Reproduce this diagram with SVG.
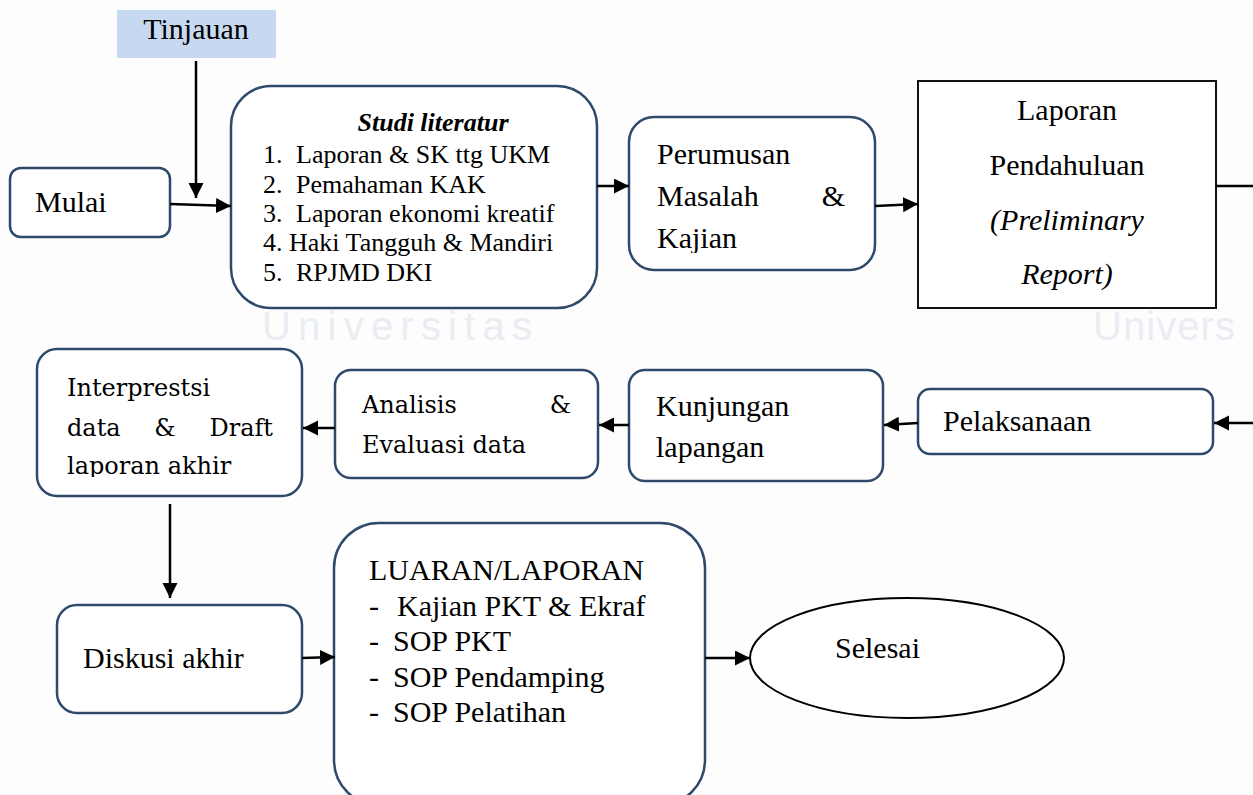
<svg xmlns="http://www.w3.org/2000/svg" width="1253" height="795" viewBox="0 0 1253 795">
<style>
.node{fill:#ffffff;stroke:#2e4a6b;stroke-width:2.5}
.sq{fill:#ffffff;stroke:#111111;stroke-width:2}
.t{font-family:"Liberation Serif","Times New Roman",serif;font-size:30px;fill:#000}
.s{font-family:"Liberation Serif","Times New Roman",serif;font-size:26px;fill:#000}
.c{font-family:"DejaVu Serif",serif;font-size:24px;fill:#000}
.conn{stroke:#000;stroke-width:2.5;fill:none}
.wm{font-family:"Liberation Sans",Arial,sans-serif;font-size:40px;fill:#e9edf3;letter-spacing:8px}
</style>
<defs>
<marker id="ah" markerUnits="userSpaceOnUse" markerWidth="16" markerHeight="16" refX="15" refY="7.5" orient="auto">
<path d="M0,0 L15,7.5 L0,15 z" fill="#000"/>
</marker>
<clipPath id="clipK"><rect x="629" y="117" width="246" height="136"/></clipPath>
<clipPath id="clipI"><rect x="37" y="349" width="265" height="128"/></clipPath>
</defs>
<rect width="1253" height="795" fill="#fdfdfd"/>
<g id="watermark">
<text class="wm" x="262" y="340" textLength="278">Universitas</text>
<text class="wm" x="1093" y="340" textLength="150">Univers</text>
</g>
<g id="tinjauan">
<rect x="117" y="10" width="159" height="48" fill="#c6d9f1"/>
<text class="t" x="196" y="39" text-anchor="middle">Tinjauan</text>
</g>
<g id="mulai">
<rect class="node" x="10" y="168" width="160" height="69" rx="11"/>
<text class="t" x="35" y="212">Mulai</text>
</g>
<g id="studi">
<rect class="node" x="231" y="86" width="366" height="222" rx="40"/>
<text class="s" x="433" y="131" text-anchor="middle" font-weight="bold" font-style="italic">Studi literatur</text>
<text class="s" x="263" y="163">1.</text><text class="s" x="296" y="163">Laporan &amp; SK ttg UKM</text>
<text class="s" x="263" y="193">2.</text><text class="s" x="296" y="193">Pemahaman KAK</text>
<text class="s" x="263" y="222">3.</text><text class="s" x="296" y="222">Laporan ekonomi kreatif</text>
<text class="s" x="263" y="251">4. Haki Tangguh &amp; Mandiri</text>
<text class="s" x="263" y="281">5.</text><text class="s" x="296" y="281">RPJMD DKI</text>
</g>
<g id="perumusan">
<rect class="node" x="629" y="117" width="246" height="153" rx="25"/>
<g clip-path="url(#clipK)">
<text class="t" x="657" y="164">Perumusan</text>
<text class="t" x="657" y="206">Masalah</text>
<text class="t" x="845" y="206" text-anchor="end">&amp;</text>
<text class="t" x="657" y="248">Kajian</text>
</g>
</g>
<g id="laporan">
<rect class="sq" x="918" y="81" width="298" height="227"/>
<text class="t" x="1067" y="120" text-anchor="middle">Laporan</text>
<text class="t" x="1067" y="175" text-anchor="middle">Pendahuluan</text>
<text class="t" x="1067" y="230" text-anchor="middle" font-style="italic">(Preliminary</text>
<text class="t" x="1067" y="284" text-anchor="middle" font-style="italic">Report)</text>
</g>
<g id="pelaksanaan">
<rect class="node" x="918" y="389" width="295" height="65" rx="12"/>
<text class="t" x="943" y="431">Pelaksanaan</text>
</g>
<g id="kunjungan">
<rect class="node" x="629" y="370" width="254" height="111" rx="16"/>
<text class="t" x="656" y="416">Kunjungan</text>
<text class="t" x="656" y="457">lapangan</text>
</g>
<g id="analisis">
<rect class="node" x="335" y="370" width="263" height="108" rx="16"/>
<text class="c" x="362" y="413">Analisis</text>
<text class="c" x="571" y="413" text-anchor="end">&amp;</text>
<text class="c" x="362" y="453" textLength="164">Evaluasi data</text>
</g>
<g id="interpretasi">
<rect class="node" x="37" y="349" width="265" height="147" rx="20"/>
<g clip-path="url(#clipI)">
<text class="c" x="67" y="396">Interprestsi</text>
<text class="c" x="67" y="436">data</text>
<text class="c" x="165" y="436" text-anchor="middle">&amp;</text>
<text class="c" x="273" y="436" text-anchor="end">Draft</text>
<text class="c" x="67" y="474">laporan akhir</text>
</g>
</g>
<g id="diskusi">
<rect class="node" x="57" y="605" width="245" height="108" rx="20"/>
<text class="t" x="83" y="668">Diskusi akhir</text>
</g>
<g id="luaran">
<rect class="node" x="334" y="523" width="371" height="282" rx="45"/>
<text class="t" x="369" y="580">LUARAN/LAPORAN</text>
<text class="t" x="369" y="616">-</text><text class="t" x="397" y="616">Kajian PKT &amp; Ekraf</text>
<text class="t" x="369" y="651">-</text><text class="t" x="393" y="651">SOP PKT</text>
<text class="t" x="369" y="687">-</text><text class="t" x="393" y="687">SOP Pendamping</text>
<text class="t" x="369" y="722">-</text><text class="t" x="393" y="722">SOP Pelatihan</text>
</g>
<g id="selesai">
<ellipse cx="907" cy="658" rx="157" ry="60" fill="#fff" stroke="#000" stroke-width="2"/>
<text class="t" x="835" y="658">Selesai</text>
</g>
<g id="connectors">
<line class="conn" x1="196" y1="61" x2="196" y2="198" marker-end="url(#ah)"/>
<line class="conn" x1="170" y1="204" x2="231" y2="206" marker-end="url(#ah)"/>
<line class="conn" x1="597" y1="186" x2="629" y2="186" marker-end="url(#ah)"/>
<line class="conn" x1="875" y1="206" x2="918" y2="204" marker-end="url(#ah)"/>
<line class="conn" x1="1216" y1="186" x2="1253" y2="186"/>
<line class="conn" x1="1253" y1="423" x2="1214" y2="423" marker-end="url(#ah)"/>
<line class="conn" x1="918" y1="423" x2="884" y2="425" marker-end="url(#ah)"/>
<line class="conn" x1="629" y1="425" x2="599" y2="425" marker-end="url(#ah)"/>
<line class="conn" x1="335" y1="428" x2="303" y2="428" marker-end="url(#ah)"/>
<line class="conn" x1="170" y1="504" x2="170" y2="598" marker-end="url(#ah)"/>
<line class="conn" x1="302" y1="658" x2="335" y2="657" marker-end="url(#ah)"/>
<line class="conn" x1="705" y1="658" x2="750" y2="658" marker-end="url(#ah)"/>
</g>
</svg>
